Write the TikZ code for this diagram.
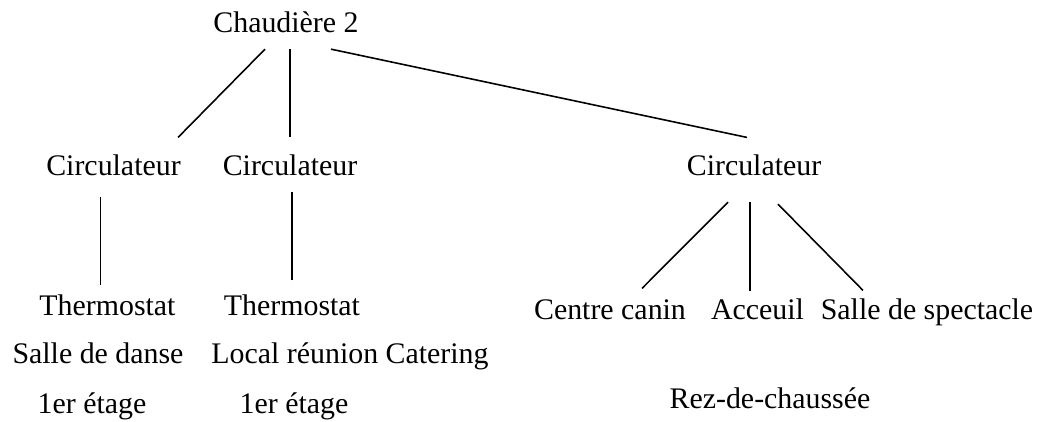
\documentclass[tikz,border=0pt]{standalone}
\usepackage{fontspec}
\setmainfont{Liberation Serif}
\begin{document}
\begin{tikzpicture}
        \useasboundingbox (0,0) rectangle (20.76,-8.42);
        \begin{scope}[every node/.style={anchor=base,inner xsep=0pt,inner ysep=0.33cm,font=\fontsize{17}{20}\selectfont}]
            \node (ch) at (5.72,-0.64) {Chaudière 2};

            % Circulateurs
            \node (c1) at (2.27,-3.5) {Circulateur};
            \node (c2) at (5.8,-3.5) {Circulateur};
            \node (c3) at (15.08,-3.5) {Circulateur};

            % Thermostats
            \node (t1) at (2.15,-6.3) {Thermostat};
            \node (t2) at (5.84,-6.3) {Thermostat};
            \node (s1) at (1.96,-7.26) {Salle de danse};
            \node (s2) at (7.0,-7.26) {Local réunion Catering};
            \node (e1) at (1.84,-8.26) {1er étage};
            \node (e2) at (5.88,-8.26) {1er étage};

            % Rez-de-chaussée
            \node (cc) at (12.2,-6.38) {Centre canin};
            \node (ac) at (15.15,-6.38) {Acceuil};
            \node (ss) at (18.54,-6.38) {Salle de spectacle};
            \node (rz) at (15.4,-8.16) {Rez-de-chaussée};
        \end{scope}

        % Liaisons
        \begin{scope}[line width=0.9pt]
            \draw ([xshift=-0.42cm]ch.south) -- ([xshift=-0.06cm]c1.north east);
            \draw (c2.north) -- (c2.north |- ch.south);
            \draw ([xshift=-0.56cm]ch.south east) -- ([xshift=-0.14cm]c3.north);
            \draw ([xshift=-0.14cm,yshift=-0.16cm]t1.north) -- ([xshift=-0.14cm,yshift=-0.1cm]t1.north |- c1.south);
            \draw ([yshift=-0.06cm]t2.north) -- (t2.north |- c2.south);
            \draw ([xshift=-0.52cm,yshift=-0.2cm]c3.south) -- ([xshift=0.64cm,yshift=-0.12cm]cc.north);
            \draw ([xshift=-0.15cm,yshift=-0.2cm]ac.north) -- ([xshift=-0.15cm,yshift=-0.2cm]ac.north |- c3.south);
            \draw ([xshift=0.48cm,yshift=-0.24cm]c3.south) -- ([xshift=-1.28cm,yshift=-0.18cm]ss.north);
        \end{scope}
    \end{tikzpicture}
\end{document}
